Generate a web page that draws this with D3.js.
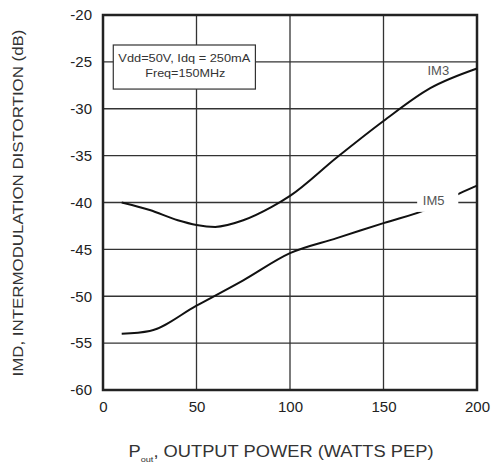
<!DOCTYPE html>
<html lang="en">
<head>
<meta charset="UTF-8" />
<title>IMD vs Output Power</title>
<script src="https://d3js.org/d3.v7.min.js"></script>
<style>
  body { margin: 0; background: #fff; }
  text { font-family: "Liberation Sans", Arial, sans-serif; }
</style>
</head>
<body>
<div id="chart"></div>
<script>
// tick values
var xTicks = [0, 50, 100, 150, 200];
var yTicks = [-20, -25, -30, -35, -40, -45, -50, -55, -60];

// IM3 curve
var im3X = [10, 25, 40, 50, 60, 75, 90, 100, 125, 150, 175, 200];
var im3Y = [-40, -40.8, -41.9, -42.4, -42.6, -41.9, -40.5, -39.3, -35.2, -31.3, -27.8, -25.7];

// IM5 curve
var im5X = [10, 25, 50, 75, 100, 125, 150, 175, 191, 200];
var im5Y = [-54, -53.7, -51.0, -48.3, -45.4, -43.8, -42.2, -40.6, -39.0, -38.2];

var W = 499, H = 464;
var margin = {top: 15, right: 22, bottom: 74, left: 103},
    width = W - margin.left - margin.right,
    height = H - margin.top - margin.bottom;

var svg = d3.select("#chart").append("svg")
    .attr("width", W).attr("height", H)
  .append("g")
    .attr("transform", "translate(" + margin.left + "," + margin.top + ")");

var x = d3.scaleLinear().domain([0, 200]).range([0, width]);
var y = d3.scaleLinear().domain([-60, -20]).range([height, 0]);

// grid
svg.append("g").selectAll("line").data(xTicks).enter().append("line")
    .attr("x1", d => x(d)).attr("x2", d => x(d))
    .attr("y1", 0).attr("y2", height)
    .attr("stroke", "#333").attr("stroke-width", 1.3);
svg.append("g").selectAll("line").data(yTicks).enter().append("line")
    .attr("x1", 0).attr("x2", width)
    .attr("y1", d => y(d)).attr("y2", d => y(d))
    .attr("stroke", "#333").attr("stroke-width", 1.3);

// axes labels (plain hyphen like the original)
var fmt = function(d) { return String(d); };
var xAxis = svg.append("g")
    .attr("transform", "translate(0," + height + ")")
    .call(d3.axisBottom(x).tickValues(xTicks).tickFormat(fmt).tickSize(0).tickPadding(11));
var yAxis = svg.append("g")
    .call(d3.axisLeft(y).tickValues(yTicks).tickFormat(fmt).tickSize(0).tickPadding(11));
[xAxis, yAxis].forEach(function(a) {
  a.select(".domain").remove();
  a.selectAll("text").attr("font-size", 15).attr("fill", "#222")
    .style("font-family", "'Liberation Sans', Arial, sans-serif");
});

// frame
svg.append("rect")
    .attr("width", width).attr("height", height)
    .attr("fill", "none").attr("stroke", "#222").attr("stroke-width", 2.5);

// curves
var line = d3.line()
    .x(d => x(d[0])).y(d => y(d[1]))
    .curve(d3.curveMonotoneX);

svg.append("path")
    .datum(d3.zip(im3X, im3Y))
    .attr("fill", "none").attr("stroke", "#111").attr("stroke-width", 2)
    .attr("d", line);
svg.append("path")
    .datum(d3.zip(im5X, im5Y))
    .attr("fill", "none").attr("stroke", "#111").attr("stroke-width", 2)
    .attr("d", line);

// curve labels
svg.append("text")
    .attr("x", x(173.5)).attr("y", y(-26.4))
    .attr("font-size", 13).attr("fill", "#555")
    .text("IM3");

svg.append("rect")
    .attr("x", x(168)).attr("y", y(-38.6))
    .attr("width", x(190) - x(168)).attr("height", y(-41) - y(-38.6))
    .attr("fill", "#fff");
svg.append("text")
    .attr("x", x(171)).attr("y", y(-40.3))
    .attr("font-size", 13).attr("fill", "#555")
    .text("IM5");

// condition box
var box = svg.append("g");
box.append("rect")
    .attr("x", x(5.5)).attr("y", y(-23.2))
    .attr("width", x(81.5) - x(5.5)).attr("height", y(-27.9) - y(-23.2))
    .attr("fill", "#fff").attr("stroke", "#333").attr("stroke-width", 1.2);
box.append("text")
    .attr("x", x(43.5)).attr("y", y(-25))
    .attr("text-anchor", "middle").attr("font-size", 11).attr("fill", "#333")
    .attr("textLength", 132).attr("lengthAdjust", "spacingAndGlyphs")
    .text("Vdd=50V, Idq = 250mA");
box.append("text")
    .attr("x", x(44)).attr("y", y(-26.6))
    .attr("text-anchor", "middle").attr("font-size", 11).attr("fill", "#333")
    .attr("textLength", 80).attr("lengthAdjust", "spacingAndGlyphs")
    .text("Freq=150MHz");

// axis titles
var xt = svg.append("text")
    .attr("x", 281 - margin.left).attr("y", 457 - margin.top)
    .attr("text-anchor", "middle").attr("font-size", 16).attr("fill", "#333")
    .attr("textLength", 305).attr("lengthAdjust", "spacingAndGlyphs");
xt.append("tspan").text("P");
xt.append("tspan").attr("font-size", 8).attr("dy", 5).text("out");
xt.append("tspan").attr("dy", -5).text(", OUTPUT POWER (WATTS PEP)");

svg.append("text")
    .attr("transform", "translate(" + (23 - margin.left) + "," + (203 - margin.top) + ") rotate(-90)")
    .attr("text-anchor", "middle").attr("font-size", 15).attr("fill", "#333")
    .attr("textLength", 347).attr("lengthAdjust", "spacingAndGlyphs")
    .text("IMD, INTERMODULATION DISTORTION (dB)");
</script>
</body>
</html>
